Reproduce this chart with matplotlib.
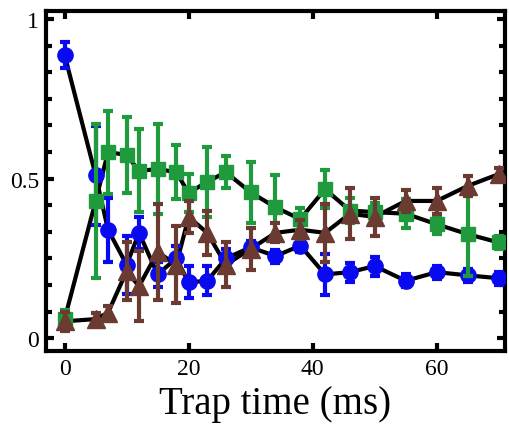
import matplotlib
matplotlib.use("Agg")
import matplotlib.pyplot as plt
from matplotlib.ticker import MultipleLocator

# trap times (ms)
t = [0, 5, 7, 10, 12, 15, 18, 20, 23, 26, 30, 34, 38, 42, 46, 50, 55, 60, 65, 70]

blue = [0.887, 0.51, 0.34, 0.23, 0.33, 0.20, 0.25, 0.175, 0.18, 0.25,
        0.285, 0.257, 0.29, 0.20, 0.207, 0.226, 0.18, 0.207, 0.197, 0.188]
blue_err = [0.04, 0.155, 0.10, 0.09, 0.05, 0.04, 0.04, 0.05, 0.045, 0.03,
            0.02, 0.02, 0.02, 0.065, 0.03, 0.03, 0.02, 0.02, 0.02, 0.02]

green = [0.06, 0.43, 0.583, 0.574, 0.524, 0.53, 0.52, 0.455, 0.49, 0.52,
         0.457, 0.41, 0.373, 0.467, 0.40, 0.395, 0.39, 0.357, 0.326, 0.30]
green_err = [0.03, 0.24, 0.13, 0.12, 0.13, 0.14, 0.085, 0.06, 0.11, 0.05,
             0.095, 0.10, 0.035, 0.06, 0.04, 0.03, 0.045, 0.03, 0.13, 0.02]

brown = [0.053, 0.06, 0.08, 0.21, 0.163, 0.27, 0.23, 0.38, 0.33, 0.23,
         0.28, 0.33, 0.34, 0.33, 0.39, 0.38, 0.43, 0.43, 0.477, 0.514]
brown_err = [0.03, 0.02, 0.02, 0.09, 0.11, 0.15, 0.12, 0.05, 0.07, 0.07,
             0.065, 0.03, 0.03, 0.09, 0.08, 0.06, 0.035, 0.04, 0.03, 0.02]

fig = plt.figure(figsize=(5.09, 4.27), dpi=100)
ax = fig.add_axes([0.0904, 0.1756, 0.9016, 0.7964])

series = [
    (blue, blue_err, "#0a0af0", "o", 11),
    (green, green_err, "#1f9a3c", "s", 10),
    (brown, brown_err, "#6b3a30", "^", 13),
]

# black connecting lines under the markers
for vals, err, col, mk, ms in series:
    ax.plot(t, vals, color="black", lw=3, zorder=2)

for i, (vals, err, col, mk, ms) in enumerate(series):
    ax.errorbar(t, vals, yerr=err, fmt=mk, color=col, ms=ms, mec=col,
                elinewidth=3, capsize=3.5, capthick=3, zorder=3 + i)

ax.set_xlim(-3, 71)
ax.set_ylim(-0.04, 1.025)
ax.set_xticks([0, 20, 40, 60])
ax.set_yticks([0, 0.5, 1])
ax.set_yticklabels(["0", "0.5", "1"])
ax.yaxis.set_minor_locator(MultipleLocator(0.5 / 6))

for s in ax.spines.values():
    s.set_linewidth(3)

ax.tick_params(which="both", direction="in", top=True, right=True,
               width=3, labelsize=17)
ax.tick_params(which="major", length=6, pad=5)
ax.tick_params(which="minor", length=4)
ax.tick_params(axis="x", which="minor", bottom=False, top=False)

for lab in ax.get_xticklabels() + ax.get_yticklabels():
    lab.set_fontfamily("Liberation Serif")

ax.set_xlabel("Trap time (ms)", fontsize=28, family="Liberation Serif",
              labelpad=4)

fig.savefig("out.png", dpi=100)
